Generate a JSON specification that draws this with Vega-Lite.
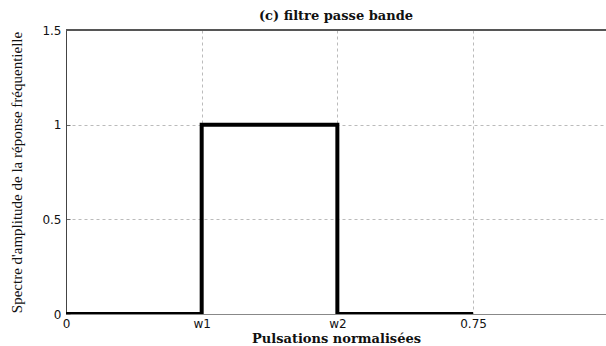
{
  "$schema": "https://vega.github.io/schema/vega-lite/v6.json",
  "autosize": "none",
  "width": 540,
  "height": 284,
  "padding": {"left": 66, "top": 30, "right": 0, "bottom": 32},
  "background": "white",
  "title": {
    "text": "(c) filtre passe bande",
    "font": "DejaVu Serif",
    "fontSize": 13,
    "fontWeight": "bold",
    "color": "#111",
    "anchor": "middle",
    "offset": 1
  },
  "config": {
    "view": {"stroke": null},
    "axis": {
      "labelFont": "DejaVu Sans",
      "labelFontSize": 12,
      "labelColor": "#111",
      "grid": true,
      "gridColor": "#bbbbbb",
      "gridDash": [3, 3],
      "gridWidth": 1,
      "titleColor": "#111"
    }
  },
  "data": {
    "values": [
      {"w": 0, "amp": 0},
      {"w": 0.25, "amp": 0},
      {"w": 0.25, "amp": 1},
      {"w": 0.5, "amp": 1},
      {"w": 0.5, "amp": 0},
      {"w": 0.75, "amp": 0}
    ]
  },
  "layer": [
    {
      "mark": {"type": "line", "color": "black", "strokeWidth": 4, "strokeJoin": "miter", "clip": true},
      "encoding": {
        "x": {
          "field": "w",
          "type": "quantitative",
          "scale": {"domain": [0, 0.995], "nice": false, "zero": false},
          "axis": {
            "values": [0, 0.25, 0.5, 0.75],
            "format": ".2~f",
            "labelExpr": "datum.value == 0.25 ? 'w1' : datum.value == 0.5 ? 'w2' : datum.label",
            "title": "Pulsations normalisées",
            "titleFont": "DejaVu Serif",
            "titleFontSize": 13,
            "titleFontWeight": "bold",
            "titlePadding": 3,
            "domainColor": "#888888",
            "grid": true,
            "ticks": false,
            "labelPadding": 4,
            "labelFlush": false
          }
        },
        "y": {
          "field": "amp",
          "type": "quantitative",
          "scale": {"domain": [0, 1.5], "nice": false},
          "axis": {
            "values": [0, 0.5, 1, 1.5],
            "format": ".2~f",
            "title": "Spectre d'amplitude de la réponse fréquentielle",
            "titleFont": "Liberation Serif",
            "titleFontSize": 15,
            "titleFontWeight": "normal",
            "titlePadding": 17,
            "domainColor": "#444444",
            "grid": true,
            "tickSize": -4,
            "tickColor": "#666666",
            "labelPadding": 9,
            "labelFlush": false
          }
        },
        "order": {"value": 0}
      }
    },
    {
      "mark": {"type": "rule", "color": "#555555", "strokeWidth": 1},
      "encoding": {"y": {"datum": 1.5, "type": "quantitative"}}
    }
  ]
}
